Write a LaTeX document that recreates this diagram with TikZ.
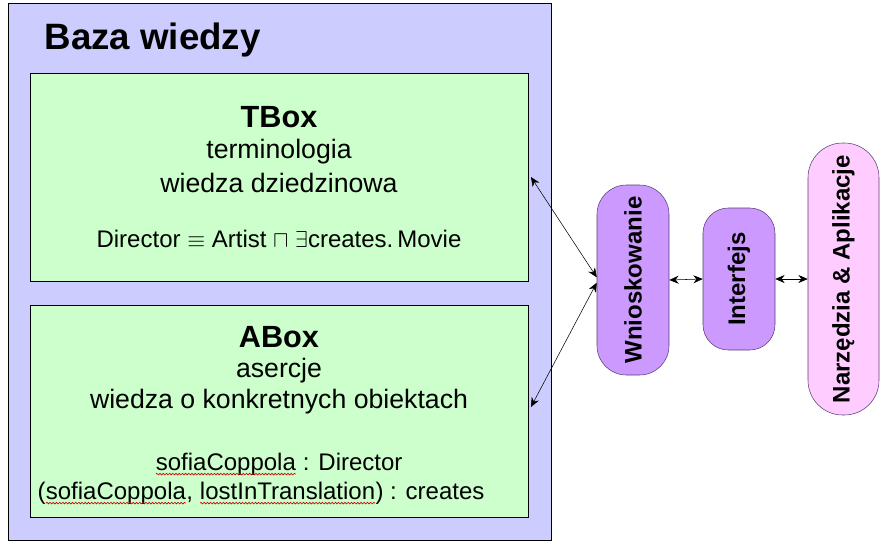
\documentclass[tikz,border=0pt]{standalone}
\usepackage{amsmath,amssymb}
\usepackage{fontspec}
\setmainfont{Liberation Sans}
\usepackage{xcolor}
\usetikzlibrary{positioning, arrows.meta, decorations.pathmorphing}

\definecolor{kbfill}{HTML}{CCCCFF}
\definecolor{boxfill}{HTML}{CCFFCC}
\definecolor{engfill}{HTML}{CC99FF}
\definecolor{appfill}{HTML}{FFCCFF}
\definecolor{engline}{HTML}{5A3C78}

% podkreslenie jak w edytorze (blad pisowni)
\newcommand{\spellmark}[1]{\tikz[baseline=(sw.base)]{%
    \node[inner sep=0pt, outer sep=0pt] (sw) {#1};
    \draw[red!80!black, line width=0.5pt, decorate,
          decoration={snake, amplitude=0.6pt, segment length=2.4pt}]
          ([yshift=-3pt]sw.base west) -- ([yshift=-3pt]sw.base east);}}

\begin{document}
\begin{tikzpicture}[
    x=0.75pt, y=-0.75pt,
    % Definicja stylow
    kb_box/.style={
        draw,
        rectangle,
        fill=kbfill,
        minimum width=407.25pt,
        minimum height=402.75pt,
        inner sep=0pt
    },
    part_box/.style={
        draw,
        rectangle,
        fill=boxfill,
        minimum width=373.5pt,
        inner sep=0pt
    },
    pill_box/.style={
        draw=engline,
        rectangle,
        fill=engfill,
        minimum width=54pt,
        inner sep=0pt
    },
    pill_text/.style={rotate=90, font=\fontsize{18}{21}\selectfont\bfseries},
    head_text/.style={font=\fontsize{23}{27}\selectfont\bfseries},
    body_text/.style={font=\fontsize{20}{24}\selectfont},
    small_text/.style={font=\fontsize{18}{22}\selectfont},
    arrow/.style={
        {Stealth[length=7pt,width=6pt]}-{Stealth[length=7pt,width=6pt]},
        draw=black
    }
]

\fill[white] (0,0) rectangle (886,544);

% =====================================================================
% BAZA WIEDZY
% =====================================================================
\node (KB) [kb_box] at (279.5,271.5) {};
\node (title) [anchor=west, font=\fontsize{27.5}{32}\selectfont\bfseries] at (40,40) {Baza wiedzy};

\node (T) [part_box, minimum height=156pt] at (279,177) {};
\node (T1) [head_text] at (279,117) {TBox};
\node (T2) [body_text] at (279,152) {terminologia};
\node (T3) [body_text] at (279,183) {wiedza dziedzinowa};
\node (T4) [small_text] at (279,239) {Director $\equiv$ Artist $\sqcap$ $\exists$creates.\,Movie};

\node (A) [part_box, minimum height=159pt] at (279,411) {};
\node (A1) [head_text] at (279,337) {ABox};
\node (A2) [body_text] at (279,371) {asercje};
\node (A3) [body_text] at (279,402) {wiedza o konkretnych obiektach};
\node (A4) [small_text] at (279,464) {\spellmark{sofiaCoppola} : Director};
\node (A5) [small_text] at (261,493) {(\spellmark{sofiaCoppola}, \spellmark{lostInTranslation}) : creates};

% =====================================================================
% WNIOSKOWANIE / INTERFEJS / APLIKACJE
% =====================================================================
\node (W) [pill_box, minimum height=142.5pt, rounded corners=22pt] at (633,280) {};
\node (Wt) [pill_text] at (W.center) {Wnioskowanie};

\node (I) [pill_box, minimum height=106.5pt, rounded corners=19pt] at (739,279) {};
\node (It) [pill_text] at (I.center) {Interfejs};

\node (N) [pill_box, fill=appfill, minimum width=53.25pt, minimum height=204pt, rounded corners=26pt] at (843.5,279) {};
\node (Nt) [pill_text] at (N.center) {Narzędzia \& Aplikacje};

% =====================================================================
% POLACZENIA
% =====================================================================
\draw [arrow] ([xshift=2pt]T.east) -- ([yshift=2pt]W.west);
\draw [arrow] ([xshift=2pt,yshift=3pt]A.east) -- ([yshift=-2pt]W.west);
\draw [arrow] (W.east) -- (I.west);
\draw [arrow] (I.east) -- (N.west);

\end{tikzpicture}
\end{document}
